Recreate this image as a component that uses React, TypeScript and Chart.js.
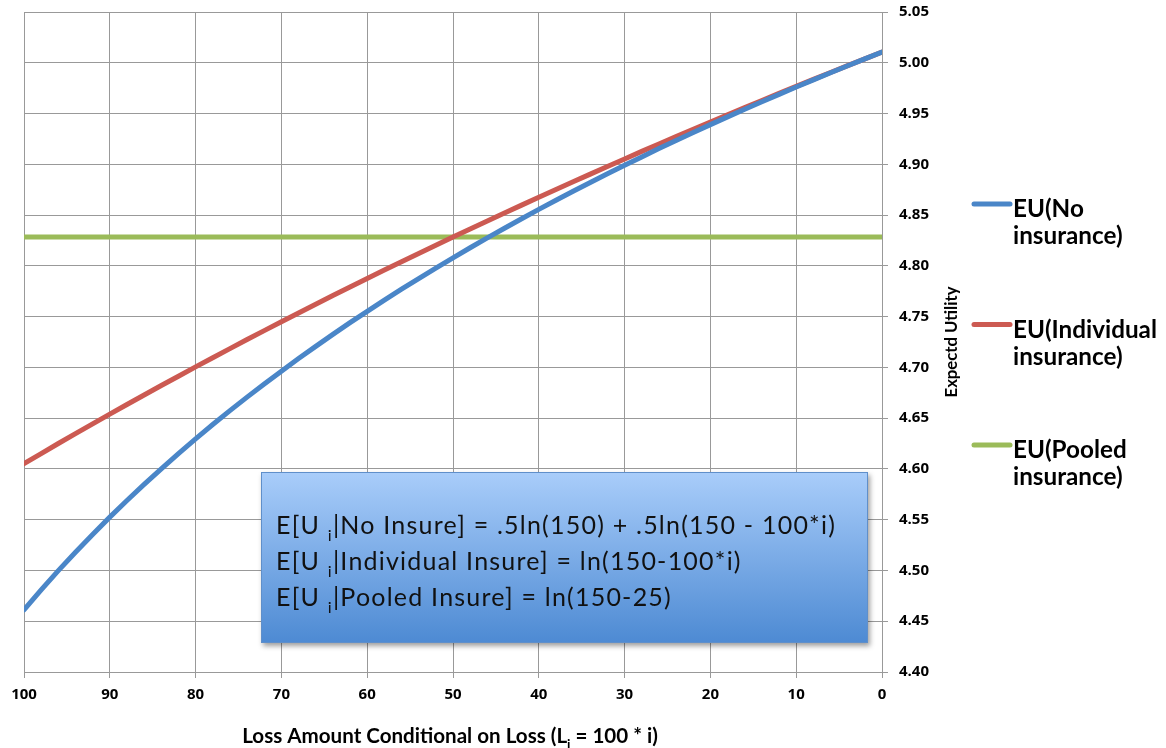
import React, { useEffect, useRef } from "react";
import { Chart, registerables } from "chart.js";

Chart.register(...registerables);

// Loss amount L_i (x axis, shown reversed from 100 to 0)
const lossAmounts = [
  0, 2, 4, 6, 8, 10, 12, 14, 16, 18,
  20, 22, 24, 26, 28, 30, 32, 34, 36, 38,
  40, 42, 44, 46, 48, 50, 52, 54, 56, 58,
  60, 62, 64, 66, 68, 70, 72, 74, 76, 78,
  80, 82, 84, 86, 88, 90, 92, 94, 96, 98,
  100,
];

const euNoInsurance = [
  5.0106, 5.0039, 4.9971, 4.9902, 4.9832, 4.9761, 4.9689, 4.9616, 4.9542, 4.9467,
  4.9391, 4.9313, 4.9235, 4.9155, 4.9073, 4.8991, 4.8907, 4.8821, 4.8734, 4.8646,
  4.8556, 4.8464, 4.837, 4.8275, 4.8178, 4.8079, 4.7978, 4.7875, 4.777, 4.7662,
  4.7552, 4.744, 4.7325, 4.7207, 4.7087, 4.6963, 4.6837, 4.6707, 4.6574, 4.6437,
  4.6296, 4.6151, 4.6001, 4.5848, 4.5689, 4.5525, 4.5355, 4.518, 4.4998, 4.4809,
  4.4613,
];

const euIndividual = [
  5.0106, 5.0039, 4.9972, 4.9904, 4.9836, 4.9767, 4.9698, 4.9628, 4.9558, 4.9488,
  4.9416, 4.9345, 4.9273, 4.92, 4.9127, 4.9053, 4.8978, 4.8903, 4.8828, 4.8752,
  4.8675, 4.8598, 4.852, 4.8442, 4.8363, 4.8283, 4.8203, 4.8122, 4.804, 4.7958,
  4.7875, 4.7791, 4.7707, 4.7622, 4.7536, 4.7449, 4.7362, 4.7274, 4.7185, 4.7095,
  4.7005, 4.6913, 4.6821, 4.6728, 4.6634, 4.654, 4.6444, 4.6347, 4.625, 4.6151,
  4.6052,
];

const pooledLoss = [0, 100];
const euPooled = [4.8283, 4.8283];

const seriesNames = ["EU(No insurance)", "EU(Individual insurance)", "EU(Pooled insurance)"];
const legendLines = [
  ["EU(No", "insurance)"],
  ["EU(Individual", "insurance)"],
  ["EU(Pooled", "insurance)"],
];
const seriesColors = ["#4a86c8", "#cc5a52", "#9bbb59"];

const yAxisTitle = "Expectd Utility";
// [text, isSubscript]
const xAxisTitle: [string, boolean][] = [
  ["Loss Amount Conditional on Loss (L", false],
  ["i", true],
  [" = 100 * i)", false],
];
const formulaLines: [string, boolean][][] = [
  [["E[U ", false], ["i", true], ["|No Insure] = .5ln(150) + .5ln(150 - 100*i)", false]],
  [["E[U ", false], ["i", true], ["|Individual Insure] = ln(150-100*i)", false]],
  [["E[U ", false], ["i", true], ["|Pooled Insure] = ln(150-25)", false]],
];

const FONT = "Lato, 'Open Sans', sans-serif";
const TICK_FONT = "'Open Sans', Lato, sans-serif";

function richWidth(ctx: CanvasRenderingContext2D, segs: [string, boolean][], size: number, weight: string) {
  let w = 0;
  for (const [t, sub] of segs) {
    ctx.font = `${weight} ${sub ? size * 0.65 : size}px ${FONT}`;
    w += ctx.measureText(t).width;
  }
  return w;
}

function charCount(segs: [string, boolean][]) {
  return segs.reduce((n, [t]) => n + t.length, 0);
}

function drawRich(ctx: CanvasRenderingContext2D, segs: [string, boolean][], x: number, y: number, size: number, weight: string) {
  let cx = x;
  for (const [t, sub] of segs) {
    const fs = sub ? size * 0.65 : size;
    ctx.font = `${weight} ${fs}px ${FONT}`;
    ctx.fillText(t, cx, sub ? y + size * 0.28 : y);
    cx += ctx.measureText(t).width;
  }
}

function fitSize(ctx: CanvasRenderingContext2D, segs: [string, boolean][], weight: string, target: number) {
  const w = richWidth(ctx, segs, 100, weight);
  return (100 * target) / w;
}

const decorPlugin = {
  id: "decor",
  afterDraw(chart: any) {
    const ctx: CanvasRenderingContext2D = chart.ctx;
    const area = chart.chartArea;
    ctx.save();

    // Formula text box
    const bx = area.left + 237;
    const by = area.top + 460;
    const bw = 607;
    const bh = 171;
    ctx.save();
    ctx.shadowColor = "rgba(0,0,0,0.38)";
    ctx.shadowBlur = 5;
    ctx.shadowOffsetX = 2;
    ctx.shadowOffsetY = 3;
    const grad = ctx.createLinearGradient(0, by, 0, by + bh);
    grad.addColorStop(0, "#a9cdfa");
    grad.addColorStop(1, "#4d8ad3");
    ctx.fillStyle = grad;
    ctx.fillRect(bx, by, bw, bh);
    ctx.restore();
    ctx.strokeStyle = "#5f8fca";
    ctx.lineWidth = 1;
    ctx.strokeRect(bx + 0.5, by + 0.5, bw - 1, bh - 1);

    ctx.fillStyle = "#111";
    ctx.textBaseline = "alphabetic";
    ctx.textAlign = "left";
    const fsz = 25;
    const natural = richWidth(ctx, formulaLines[0], fsz, "400");
    const spacing = (560 - natural) / charCount(formulaLines[0]);
    (ctx as any).letterSpacing = `${spacing.toFixed(2)}px`;
    formulaLines.forEach((segs, i) => {
      drawRich(ctx, segs, bx + 15, by + 62 + i * 36, fsz, "400");
    });
    (ctx as any).letterSpacing = "0px";

    // X axis title
    const xsz = fitSize(ctx, xAxisTitle, "700", 416);
    const xw = richWidth(ctx, xAxisTitle, xsz, "700");
    ctx.fillStyle = "#000";
    drawRich(ctx, xAxisTitle, (area.left + area.right) / 2 - xw / 2 - 3, 743, xsz, "700");

    // Y axis title (rotated, reading upward)
    const ysz = fitSize(ctx, [[yAxisTitle, false]], "700", 111);
    ctx.save();
    ctx.translate(957, (area.top + area.bottom) / 2);
    ctx.rotate(-Math.PI / 2);
    ctx.font = `700 ${ysz}px ${FONT}`;
    ctx.textAlign = "center";
    ctx.textBaseline = "alphabetic";
    ctx.fillText(yAxisTitle, 0, 0);
    ctx.restore();

    // Legend
    const lsz = fitSize(ctx, [[legendLines[1][0], false]], "700", 144);
    ctx.font = `700 ${lsz}px ${FONT}`;
    ctx.textAlign = "left";
    ctx.textBaseline = "alphabetic";
    legendLines.forEach((lines, i) => {
      const base = 217 + i * 120.5;
      ctx.strokeStyle = seriesColors[i];
      ctx.lineWidth = 5;
      ctx.lineCap = "round";
      ctx.beginPath();
      ctx.moveTo(974, base - 13);
      ctx.lineTo(1010, base - 13);
      ctx.stroke();
      ctx.fillStyle = "#000";
      lines.forEach((t, j) => ctx.fillText(t, 1013, base + j * 27));
    });

    ctx.restore();
  },
};

export default function App() {
  const ref = useRef<HTMLCanvasElement | null>(null);

  useEffect(() => {
    document.body.style.margin = "0";
    const canvas = ref.current;
    if (!canvas) return;
    const mk = (xs: number[], ys: number[]) => xs.map((x, i) => ({ x, y: ys[i] }));
    const tickFont = { family: TICK_FONT, size: 15, weight: 700 };
    const chart = new Chart(canvas, {
      type: "line",
      data: {
        datasets: [
          {
            label: seriesNames[0],
            data: mk(lossAmounts, euNoInsurance),
            borderColor: seriesColors[0],
            borderWidth: 5,
            pointRadius: 0,
            tension: 0,
            borderCapStyle: "round",
          },
          {
            label: seriesNames[1],
            data: mk(lossAmounts, euIndividual),
            borderColor: seriesColors[1],
            borderWidth: 5,
            pointRadius: 0,
            tension: 0,
            borderCapStyle: "round",
          },
          {
            label: seriesNames[2],
            data: mk(pooledLoss, euPooled),
            borderColor: seriesColors[2],
            borderWidth: 5,
            pointRadius: 0,
            tension: 0,
          },
        ],
      },
      options: {
        animation: false,
        responsive: true,
        maintainAspectRatio: false,
        layout: { padding: { left: 24, top: 12, right: 0, bottom: 0 } },
        plugins: {
          legend: { display: false },
          tooltip: { enabled: false },
        },
        scales: {
          x: {
            type: "linear",
            reverse: true,
            min: 0,
            max: 100,
            ticks: {
              stepSize: 10,
              padding: 8,
              color: "#000",
              font: tickFont,
              maxRotation: 0,
            },
            grid: { color: "#999999", lineWidth: 1, tickLength: 6 },
            border: { color: "#999999" },
            afterFit: (s: any) => {
              s.height = 76;
              s.paddingLeft = 0;
              s.paddingRight = 0;
            },
          },
          y: {
            position: "right",
            min: 4.4,
            max: 5.05,
            ticks: {
              stepSize: 0.05,
              padding: 11,
              color: "#000",
              font: tickFont,
              callback: (v: any) => Number(v).toFixed(2),
            },
            grid: { color: "#999999", lineWidth: 1, tickLength: 6 },
            border: { color: "#999999" },
            afterFit: (s: any) => {
              s.width = 284;
              s.paddingTop = 0;
              s.paddingBottom = 0;
            },
          },
        },
      },
      plugins: [decorPlugin],
    } as any);
    return () => chart.destroy();
  }, []);

  return (
    <div style={{ position: "fixed", left: 0, top: 0, width: 1166, height: 748, background: "#fff" }}>
      <canvas ref={ref} />
    </div>
  );
}
